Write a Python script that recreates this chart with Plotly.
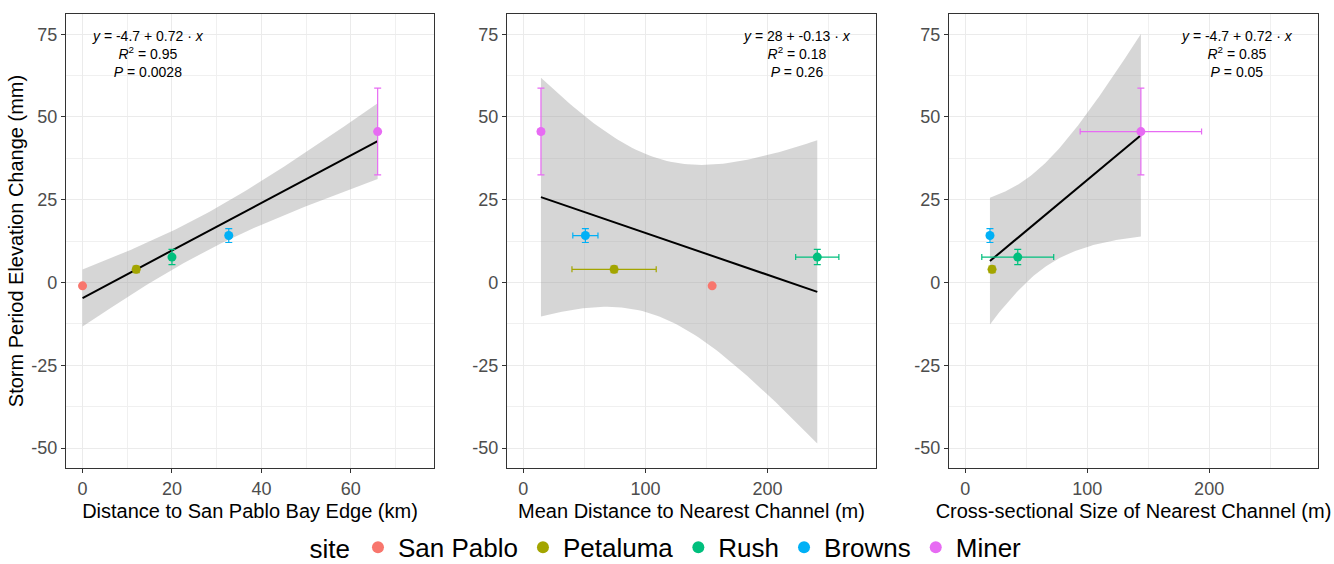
import numpy as np
import plotly.graph_objects as go

# ---------------- data ----------------
sites = ["San Pablo", "Petaluma", "Rush", "Browns", "Miner"]
colors = ["#F8766D", "#A3A500", "#00BF7D", "#00B0F6", "#E76BF3"]

elev = [-1.0, 4.0, 7.7, 14.2, 45.6]          # storm period elevation change (mm)
elev_se = [None, 1.0, 2.3, 2.1, 13.1]

bay_km = [0.0, 12.0, 20.0, 32.7, 66.0]        # distance to San Pablo Bay edge (km)
chan_dist = [154.6, 74.3, 240.7, 50.8, 14.4]  # mean distance to nearest channel (m)
chan_dist_se = [None, 34.5, 17.7, 10.3, 2.5]
chan_size = [None, 21.9, 43.0, 20.2, 144.0]   # cross-sectional size of nearest channel (m)
chan_size_se = [None, None, 29.5, None, 49.8]

y_ticks = [-50, -25, 0, 25, 50, 75]
y_minor = [-37.5, -12.5, 12.5, 37.5, 62.5]
x_ticks = [[0, 20, 40, 60], [0, 100, 200], [0, 100, 200]]
x_minor = [[10, 30, 50, 70], [50, 150, 250], [50, 150, 250]]

eq_labels = [
    ("-4.7 + 0.72", "0.95", "0.0028"),
    ("28 + -0.13", "0.18", "0.26"),
    ("-4.7 + 0.72", "0.85", "0.05"),
]
x_titles = ["Distance to San Pablo Bay Edge (km)",
            "Mean Distance to Nearest Channel (m)",
            "Cross-sectional Size of Nearest Channel (m)"]
y_title = "Storm Period Elevation Change (mm)"

# ---------------- layout geometry ----------------
W, H = 1334, 564
FONT = "Arial, Liberation Sans, sans-serif"
x_domains = [(66 / W, 434 / W), (507 / W, 876 / W), (949 / W, 1318 / W)]
y_domain = (1 - 468 / H, 1 - 14 / H)
x_ranges = [(-3.7, 78.6), (-13.4, 288.8), (-13.4, 289.3)]
y_range = (-56, 81.1)
ann_x = [148 / W, 797 / W, 1237 / W]

T_Q = {2: 4.302653, 3: 3.182446}

fig = go.Figure()


def fit_band(xv, yv):
    pts = [(a, b) for a, b in zip(xv, yv) if a is not None and b is not None]
    x = np.array([p[0] for p in pts], float)
    y = np.array([p[1] for p in pts], float)
    n = len(x)
    slope, icpt = np.polyfit(x, y, 1)
    resid = y - (icpt + slope * x)
    s = np.sqrt(np.sum(resid ** 2) / (n - 2))
    sxx = np.sum((x - x.mean()) ** 2)
    xs = np.linspace(x.min(), x.max(), 80)
    fit = icpt + slope * xs
    se = s * np.sqrt(1 / n + (xs - x.mean()) ** 2 / sxx)
    t = T_Q[n - 2]
    return xs, fit, fit - t * se, fit + t * se


xdata = [(bay_km, [None] * 5), (chan_dist, chan_dist_se), (chan_size, chan_size_se)]

for p, (xv, xse) in enumerate(xdata):
    xa = "x" if p == 0 else f"x{p + 1}"
    ya = "y" if p == 0 else f"y{p + 1}"
    xs, fit, lo, hi = fit_band(xv, elev)
    fig.add_trace(go.Scatter(x=np.concatenate([xs, xs[::-1]]), y=np.concatenate([hi, lo[::-1]]),
                             fill="toself", fillcolor="rgba(153,153,153,0.4)",
                             line=dict(width=0), hoverinfo="skip", showlegend=False,
                             xaxis=xa, yaxis=ya))
    fig.add_trace(go.Scatter(x=xs, y=fit, mode="lines", line=dict(color="black", width=2),
                             showlegend=False, xaxis=xa, yaxis=ya))
    for i, site in enumerate(sites):
        if xv[i] is None:
            continue
        ex = dict(type="data", array=[xse[i]], visible=xse[i] is not None,
                  color=colors[i], thickness=1.2, width=3)
        ey = dict(type="data", array=[elev_se[i]], visible=elev_se[i] is not None,
                  color=colors[i], thickness=1.2, width=3.5)
        fig.add_trace(go.Scatter(x=[xv[i]], y=[elev[i]], mode="markers",
                                 marker=dict(color=colors[i], size=9),
                                 error_x=ex, error_y=ey,
                                 name=site, legendgroup=site, showlegend=(p == 0),
                                 xaxis=xa, yaxis=ya))
    eq, r2, pv = eq_labels[p]
    fig.add_annotation(x=ann_x[p], y=1 - 54 / H, xref="paper", yref="paper",
                       text=f"<i>y</i> = {eq} · <i>x</i><br><i>R</i><sup>2</sup> = {r2}<br><i>P</i> = {pv}",
                       showarrow=False, align="center", xanchor="center", yanchor="middle",
                       font=dict(family=FONT, size=14, color="black"))

axis_common = dict(showline=True, mirror=True, linecolor="#333333", linewidth=1.2,
                   ticks="outside", ticklen=4, tickcolor="#333333", tickwidth=1,
                   showgrid=True, gridcolor="#EBEBEB", gridwidth=1.1, zeroline=False,
                   tickfont=dict(family=FONT, size=18, color="#4D4D4D"))

layout = dict(
    width=W, height=H, margin=dict(l=0, r=0, t=0, b=0, autoexpand=False),
    paper_bgcolor="white", plot_bgcolor="white",
    font=dict(family=FONT, color="black"),
    legend=dict(orientation="h", x=0.5, xanchor="center", y=-0.012, yanchor="bottom",
                borderwidth=0, tracegroupgap=0,
                title=dict(text="site", font=dict(family=FONT, size=26)),
                font=dict(family=FONT, size=26), itemsizing="constant"),
)
for p in range(3):
    k = "" if p == 0 else str(p + 1)
    lo_r, hi_r = x_ranges[p]
    layout[f"xaxis{k}"] = dict(axis_common, domain=list(x_domains[p]), range=[lo_r, hi_r],
                               anchor=f"y{k}", tickmode="array", tickvals=x_ticks[p],
                               ticktext=[str(v) for v in x_ticks[p]],
                               minor=dict(tickmode="array", tickvals=x_minor[p], showgrid=True,
                                          gridcolor="#F0F0F0", gridwidth=0.6, ticks=""),
                               title=dict(text=x_titles[p], standoff=6,
                                          font=dict(family=FONT, size=20, color="black")))
    ydict = dict(axis_common, domain=list(y_domain), range=list(y_range), anchor=f"x{k}",
                 tickmode="array", tickvals=y_ticks, ticktext=[str(v) for v in y_ticks],
                 minor=dict(tickmode="array", tickvals=y_minor, showgrid=True,
                            gridcolor="#F0F0F0", gridwidth=0.6, ticks=""))
    if p == 0:
        ydict["title"] = dict(text=y_title, standoff=2,
                              font=dict(family=FONT, size=20, color="black"))
    layout[f"yaxis{k}"] = ydict

fig.update_layout(**layout)
fig.write_html("out.html")
